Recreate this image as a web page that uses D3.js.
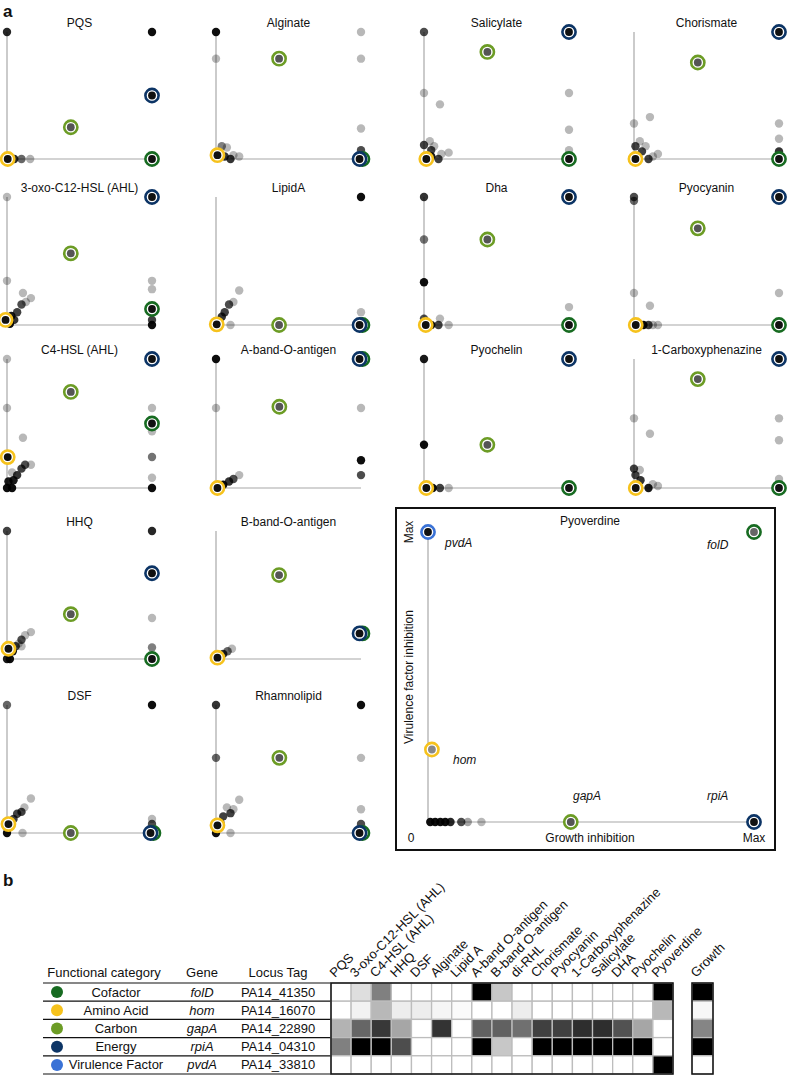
<!DOCTYPE html>
<html>
<head>
<meta charset="utf-8">
<script src="https://cdnjs.cloudflare.com/ajax/libs/d3/7.8.5/d3.min.js"></script>
<style>
  body { margin: 0; background: #fff; }
  svg text { font-family: "Liberation Sans", Arial, Helvetica, sans-serif; fill: #111; }
</style>
</head>
<body>
<svg id="fig" width="788" height="1075"></svg>
<script>
// ---- data ----
var panelNames = ["PQS", "Alginate", "Salicylate", "Chorismate",
  "3-oxo-C12-HSL (AHL)", "LipidA", "Dha", "Pyocyanin",
  "C4-HSL (AHL)", "A-band-O-antigen", "Pyochelin", "1-Carboxyphenazine",
  "HHQ", "B-band-O-antigen", "DSF", "Rhamnolipid"];

// highlighted genes, [growth inhibition, virulence inhibition] per panel (0..1)
var folDPos = [[1,0],[1.01,0],[1,0],[1,0],[1,0.125],[1.01,0],[1,0],[1,0],
  [1,0.5],[1.01,1],[1,0],[1,0],[1,0],[1.01,0.2],[1.01,0],[1.01,0]];
var rpiAPos = [[1,0.5],[0.99,0],[1,1],[1,1],[1,1],[0.99,0],[1,1],[1,1],
  [1,1],[0.99,1],[1,1],[1,1],[1,0.67],[0.99,0.2],[0.99,0],[0.99,0]];
var gapAPos = [[0.44,0.25],[0.435,0.79],[0.437,0.843],[0.44,0.76],[0.44,0.56],[0.435,0],[0.437,0.668],[0.44,0.755],
  [0.44,0.745],[0.437,0.63],[0.437,0.335],[0.44,0.844],[0.44,0.35],[0.435,0.656],[0.44,0],[0.437,0.587]];
var homPos = [[0.005,0],[0.01,0.03],[0.016,0],[0.01,0],[-0.01,0.04],[0.005,0.005],[0.012,0],[0.012,0],
  [0.005,0.24],[0.01,0],[0.016,0],[0.012,0],[0.01,0.08],[0.01,0.01],[0.01,0.07],[0.01,0.06]];

// other genes: [x, y, darkness]
var otherDots = [
  [[0,1,0.85],[1,1,0.95],[0.02,0,0.95],[0.05,0,0.85],[0.1,0,0.6],[0.16,0,0.3]],
  [[0,1,0.95],[0,0.79,0.28],[1,1,0.28],[1,0.79,0.28],[1,0.24,0.28],[1,0.07,0.7],[0.04,0.1,0.5],[0.075,0.09,0.28],[0.06,0.02,0.8],[0.1,0,0.8],[0.12,0.03,0.28],[0.16,0.02,0.28]],
  [[0,1,0.7],[0,0.52,0.28],[0.11,0.43,0.28],[1,0.52,0.28],[1,0.23,0.28],[1,0.07,0.28],[0,0.11,0.75],[0.04,0.14,0.28],[0.07,0.1,0.28],[0.05,0.07,0.75],[0.12,0.04,0.28],[0.17,0.05,0.28],[0.1,0,0.75],[0.05,0.02,0.9]],
  [[0.11,0.33,0.28],[0,0.28,0.28],[1,0.28,0.28],[1,0.16,0.28],[1,0.06,0.8],[0.04,0.14,0.28],[0.01,0.1,0.75],[0.08,0.1,0.28],[0.055,0.06,0.75],[0.1,0,0.75],[0.165,0.04,0.28],[0.13,0.02,0.28]],
  [[0,1,0.28],[0,0.345,0.28],[1,0.345,0.28],[1,0.28,0.28],[1,0.04,0.75],[1,0,0.95],[0.11,0.25,0.28],[0.165,0.21,0.28],[0.13,0.18,0.28],[0.1,0.16,0.7],[0.07,0.1,0.75],[0.03,0.07,0.9],[0.02,0.01,0.95],[0.05,0.04,0.8]],
  [[1,1,0.95],[1,0.1,0.28],[0.16,0.27,0.28],[0.12,0.18,0.28],[0.09,0.16,0.7],[0.06,0.1,0.75],[0.04,0.065,0.8],[0.015,0.03,0.95],[0.1,0,0.28]],
  [[0,1,0.8],[0,0.668,0.55],[0,0.334,0.95],[1,0.14,0.28],[0.11,0.05,0.28],[0.17,0,0.28],[0.1,0,0.75],[0.05,0,0.95],[0,0.05,0.7]],
  [[0,1,0.7],[0,0.97,0.6],[0,0.25,0.28],[0.11,0.15,0.28],[1,0.25,0.28],[0.065,0,0.95],[0.1,0,0.75],[0.165,0,0.28],[0.13,0,0.3]],
  [[0,1,0.28],[0,0.62,0.28],[1,0.62,0.28],[1,0.44,0.28],[0.11,0.39,0.28],[1,0.24,0.55],[1,0.08,0.28],[1,0,0.95],[0.165,0.18,0.28],[0.125,0.18,0.7],[0.1,0.15,0.75],[0.07,0.1,0.8],[0.035,0.12,0.28],[0.045,0.06,0.9],[0.01,0.05,0.9],[0,0,0.95],[0.035,0,0.95]],
  [[0,1,0.95],[0,0.62,0.28],[1,0.62,0.28],[1,0.215,0.95],[1,0.1,0.7],[0.16,0.1,0.28],[0.12,0.07,0.7],[0.09,0.05,0.8],[0.05,0.025,0.95]],
  [[0,1,0.9],[0,0.335,0.95],[0.06,0,0.95],[0.11,0,0.75],[0.17,0,0.28]],
  [[0,0.54,0.28],[0.11,0.42,0.28],[1,0.54,0.28],[1,0.37,0.28],[1,0.07,0.28],[0,0.15,0.75],[0.04,0.14,0.28],[0.01,0.1,0.75],[0.045,0.06,0.8],[0.1,0,0.9],[0.165,0.015,0.28],[0.13,0.03,0.28]],
  [[0,1,0.75],[1,1,0.85],[1,0.32,0.28],[1,0.09,0.5],[0.165,0.21,0.28],[0.125,0.185,0.28],[0.1,0.15,0.7],[0.08,0.12,0.28],[0.06,0.1,0.75],[0.1,0.1,0.28],[0.04,0.06,0.95],[0.02,0,0.95],[0,0,0.9]],
  [[0.02,0.02,0.9],[0.05,0.04,0.8],[0.08,0.06,0.6],[0.11,0.08,0.28]],
  [[0,1,0.6],[1,1,0.95],[1,0.11,0.28],[1,0.07,0.7],[0.165,0.27,0.28],[0.12,0.2,0.28],[0.1,0.165,0.75],[0.07,0.15,0.75],[0.045,0.11,0.75],[0,0,0.95],[0.107,0,0.28]],
  [[0,1,0.8],[1,1,0.95],[0,0.587,0.6],[1,0.587,0.28],[1,0.185,0.28],[1,0.07,0.7],[0.16,0.26,0.28],[0.12,0.185,0.28],[0.075,0.2,0.28],[0.1,0.155,0.75],[0.05,0.13,0.75],[0.03,0.08,0.8],[0.1,0,0.28],[0,0,0.95]]
];

// Pyoverdine (large panel)
var pyoGenes = [
  {gene: "pvdA", pos: [0, 1]},
  {gene: "folD", pos: [1, 1]},
  {gene: "hom", pos: [0.012, 0.25]},
  {gene: "gapA", pos: [0.438, 0]},
  {gene: "rpiA", pos: [1, 0]}
];
var pyoDots = [[0.007,0,0.95],[0.022,0,0.95],[0.038,0,0.95],[0.053,0,0.95],[0.069,0,0.85],[0.102,0,0.7],[0.122,0,0.35],[0.164,0,0.28]];

// table / heatmap
var genes = ["folD", "hom", "gapA", "rpiA", "pvdA"];
var categories = ["Cofactor", "Amino Acid", "Carbon", "Energy", "Virulence Factor"];
var locusTags = ["PA14_41350", "PA14_16070", "PA14_22890", "PA14_04310", "PA14_33810"];
var heatCols = ["PQS", "3-oxo-C12-HSL (AHL)", "C4-HSL (AHL)", "HHQ", "DSF", "Alginate", "Lipid A",
  "A-band O-antigen", "B-band O-antigen", "di-RHL", "Chorismate", "Pyocyanin", "1-Carboxyphenazine",
  "Salicylate", "DHA", "Pyochelin", "Pyoverdine"];
var heatValues = [
  [0, 0.13, 0.5, 0, 0, 0, 0, 1, 0.22, 0, 0, 0, 0, 0, 0, 0, 1],
  [0, 0.05, 0.28, 0.07, 0.07, 0.04, 0.02, 0, 0, 0.07, 0, 0, 0, 0, 0, 0, 0.28],
  [0.3, 0.6, 0.78, 0.35, 0, 0.8, 0, 0.62, 0.62, 0.56, 0.75, 0.75, 0.82, 0.82, 0.68, 0.35, 0],
  [0.5, 1, 1, 0.7, 0, 0, 0, 1, 0.22, 0, 1, 1, 1, 1, 1, 1, 0],
  [0, 0, 0, 0, 0, 0, 0, 0, 0, 0, 0, 0, 0, 0, 0, 0, 1]
];
var growthValues = [1, 0.03, 0.48, 1, 0];

// ---- styles ----
var geneColor = {folD: "#176b21", hom: "#f6c21c", gapA: "#6c9c25", rpiA: "#0c3465", pvdA: "#3a72d6"};
var innerFill = {folD: "#111", hom: "#111", gapA: "#555", rpiA: "#111", pvdA: "#111"};

var svg = d3.select("#fig");

// panel letters
svg.append("text").attr("x", 3).attr("y", 17).attr("font-size", 17).attr("font-weight", "bold").text("a");
svg.append("text").attr("x", 3).attr("y", 886).attr("font-size", 17).attr("font-weight", "bold").text("b");

function drawDot(g, x, y, d) {
  g.append("circle").attr("cx", x(d[0])).attr("cy", y(d[1])).attr("r", 4.2)
    .attr("fill", "#000").attr("fill-opacity", d[2]);
}

function drawRing(g, x, y, gene, pos, fill) {
  g.append("circle").attr("cx", x(pos[0])).attr("cy", y(pos[1])).attr("r", 6.6)
    .attr("fill", "#fff").attr("stroke", geneColor[gene]).attr("stroke-width", 2.6);
  g.append("circle").attr("cx", x(pos[0])).attr("cy", y(pos[1])).attr("r", 3.9)
    .attr("fill", fill || innerFill[gene]);
}

function drawAxes(g, x, y) {
  g.append("line").attr("x1", x(0)).attr("x2", x(0)).attr("y1", y(1)).attr("y2", y(0))
    .attr("stroke", "#a8a8a8").attr("stroke-width", 1.2);
  g.append("line").attr("x1", x(0)).attr("x2", x(1)).attr("y1", y(0)).attr("y2", y(0))
    .attr("stroke", "#a8a8a8").attr("stroke-width", 1.2);
}

// ---- small panels ----
var colX = [7, 216, 424, 634];
var rowTop = [32, 197, 359, 531, 705];
var rowAxis = [159, 325, 488, 659, 833];
var pw = 145;

panelNames.forEach(function(name, i) {
  var c = i % 4, r = Math.floor(i / 4);
  // the last two rows have only two panels
  if (i >= 12) { c = (i - 12) % 2; r = 3 + Math.floor((i - 12) / 2); }
  var x = d3.scaleLinear().domain([0, 1]).range([colX[c], colX[c] + pw]);
  var y = d3.scaleLinear().domain([0, 1]).range([rowAxis[r], rowTop[r]]);
  var g = svg.append("g");
  drawAxes(g, x, y);
  g.append("text").attr("x", x(0.5)).attr("y", rowTop[r] - 5)
    .attr("text-anchor", "middle").attr("font-size", 12).text(name);
  otherDots[i].forEach(function(d) { drawDot(g, x, y, d); });
  drawRing(g, x, y, "hom", homPos[i]);
  drawRing(g, x, y, "gapA", gapAPos[i]);
  drawRing(g, x, y, "folD", folDPos[i]);
  drawRing(g, x, y, "rpiA", rpiAPos[i]);
});

// ---- Pyoverdine panel ----
(function() {
  var g = svg.append("g");
  g.append("rect").attr("x", 396).attr("y", 508).attr("width", 379).attr("height", 342)
    .attr("fill", "none").attr("stroke", "#111").attr("stroke-width", 2);
  var x = d3.scaleLinear().domain([0, 1]).range([428, 754]);
  var y = d3.scaleLinear().domain([0, 1]).range([822, 532]);
  drawAxes(g, x, y);
  g.append("text").attr("x", 590).attr("y", 525).attr("text-anchor", "middle")
    .attr("font-size", 12).text("Pyoverdine");
  g.append("text").attr("transform", "translate(413," + y(1) + ") rotate(-90)")
    .attr("text-anchor", "middle").attr("font-size", 12).text("Max");
  g.append("text").attr("transform", "translate(413,677) rotate(-90)")
    .attr("text-anchor", "middle").attr("font-size", 12).text("Virulence factor inhibition");
  g.append("text").attr("x", 411).attr("y", 842).attr("text-anchor", "middle")
    .attr("font-size", 12).text("0");
  g.append("text").attr("x", 590).attr("y", 842).attr("text-anchor", "middle")
    .attr("font-size", 12).text("Growth inhibition");
  g.append("text").attr("x", x(1)).attr("y", 842).attr("text-anchor", "middle")
    .attr("font-size", 12).text("Max");

  pyoDots.forEach(function(d) { drawDot(g, x, y, d); });
  var pyoFill = {pvdA: "#111", folD: "#666", hom: "#888", gapA: "#555", rpiA: "#111"};
  pyoGenes.forEach(function(d) { drawRing(g, x, y, d.gene, d.pos, pyoFill[d.gene]); });

  // gene labels
  var lab = [["pvdA", 445, 547], ["folD", 707, 549], ["hom", 453, 764], ["gapA", 573, 800], ["rpiA", 707, 800]];
  lab.forEach(function(l) {
    g.append("text").attr("x", l[1]).attr("y", l[2]).attr("font-size", 12)
      .attr("font-style", "italic").text(l[0]);
  });
})();

// ---- table + heatmap ----
var rowY = d3.scaleBand().domain(genes).range([983, 1074]);
var colXh = d3.scaleBand().domain(heatCols).range([331, 673]);
var shade = d3.scaleLinear().domain([0, 1]).range(["#ffffff", "#000000"]);
var growthX = d3.scaleBand().domain(["Growth"]).range([692, 713]);

var tb = svg.append("g");
// headers
tb.append("text").attr("x", 104).attr("y", 977).attr("text-anchor", "middle").attr("font-size", 13).text("Functional category");
tb.append("text").attr("x", 202).attr("y", 977).attr("text-anchor", "middle").attr("font-size", 13).text("Gene");
tb.append("text").attr("x", 278).attr("y", 977).attr("text-anchor", "middle").attr("font-size", 13).text("Locus Tag");

// row lines
tb.selectAll("line.row").data([0, 1, 2, 3, 4, 5]).enter().append("line")
  .attr("x1", 43).attr("x2", 331)
  .attr("y1", function(i) { return i < 5 ? rowY(genes[i]) : rowY.range()[1]; })
  .attr("y2", function(i) { return i < 5 ? rowY(genes[i]) : rowY.range()[1]; })
  .attr("stroke", "#111").attr("stroke-width", 1.2);

genes.forEach(function(gn, i) {
  var cy = rowY(gn) + rowY.bandwidth() / 2;
  tb.append("circle").attr("cx", 57).attr("cy", cy).attr("r", 6).attr("fill", geneColor[gn]);
  tb.append("text").attr("x", 116).attr("y", cy + 4.5).attr("text-anchor", "middle").attr("font-size", 13).text(categories[i]);
  tb.append("text").attr("x", 202).attr("y", cy + 4.5).attr("text-anchor", "middle").attr("font-size", 13)
    .attr("font-style", "italic").text(gn);
  tb.append("text").attr("x", 278).attr("y", cy + 4.5).attr("text-anchor", "middle").attr("font-size", 13).text(locusTags[i]);
});

// heat cells
genes.forEach(function(gn, i) {
  heatCols.forEach(function(col, j) {
    tb.append("rect").attr("x", colXh(col)).attr("y", rowY(gn))
      .attr("width", colXh.bandwidth()).attr("height", rowY.bandwidth())
      .attr("fill", shade(heatValues[i][j])).attr("stroke", "#bdbdbd").attr("stroke-width", 1.3);
  });
  tb.append("rect").attr("x", growthX("Growth")).attr("y", rowY(gn))
    .attr("width", growthX.bandwidth()).attr("height", rowY.bandwidth())
    .attr("fill", shade(growthValues[i])).attr("stroke", "#bdbdbd").attr("stroke-width", 1.3);
});
// outer borders
tb.append("rect").attr("x", 331).attr("y", 983).attr("width", 342).attr("height", 91)
  .attr("fill", "none").attr("stroke", "#111").attr("stroke-width", 1.5);
tb.append("rect").attr("x", 692).attr("y", 983).attr("width", 21).attr("height", 91)
  .attr("fill", "none").attr("stroke", "#111").attr("stroke-width", 1.5);

// column labels
heatCols.forEach(function(col) {
  var cx = colXh(col) + colXh.bandwidth() / 2 - 6;
  tb.append("text").attr("transform", "translate(" + cx + ",978) rotate(-45)")
    .attr("font-size", 13).text(col);
});
tb.append("text").attr("transform", "translate(" + (growthX("Growth") + 4) + ",978) rotate(-45)")
  .attr("font-size", 13).text("Growth");
</script>
</body>
</html>
